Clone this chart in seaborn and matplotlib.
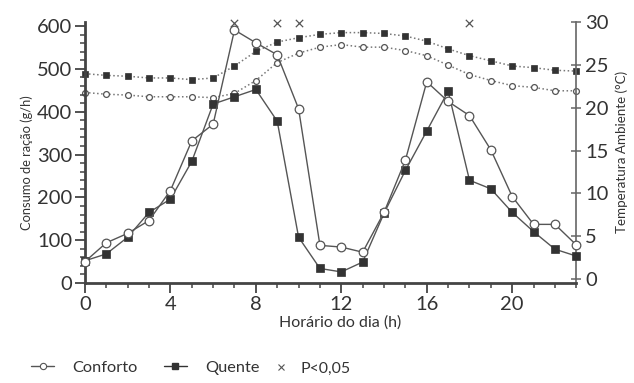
import numpy as np
import pandas as pd
import matplotlib
matplotlib.use("Agg")
import matplotlib.pyplot as plt
from matplotlib.lines import Line2D
from matplotlib.ticker import MultipleLocator
import seaborn as sns

sns.set_theme(style="white")
plt.rcParams['font.family'] = ['Lato', 'DejaVu Sans']

hours = list(range(24))
consumo_conforto = [50, 94, 116, 146, 216, 332, 371, 591, 561, 533, 407, 88, 84, 72,
                    165, 287, 470, 424, 391, 311, 202, 137, 137, 89]
consumo_quente = [52, 68, 107, 165, 196, 284, 418, 435, 452, 378, 107, 34, 26, 49,
                  163, 263, 355, 448, 240, 220, 165, 120, 79, 63]
temp_conforto = [21.8, 21.6, 21.5, 21.3, 21.3, 21.3, 21.2, 21.7, 23.2, 25.3, 26.4, 27.1,
                 27.4, 27.1, 27.1, 26.7, 26.1, 25.0, 23.9, 23.2, 22.6, 22.4, 22.0, 22.0]
temp_quente = [24.0, 23.8, 23.7, 23.5, 23.5, 23.3, 23.5, 24.9, 26.6, 27.7, 28.2, 28.6,
               28.8, 28.8, 28.7, 28.4, 27.8, 26.9, 26.1, 25.5, 24.9, 24.7, 24.4, 24.3]
signif_hours = [7, 9, 10, 18]
signif_level = [608, 608, 608, 608]

x_ticks = [0, 4, 8, 12, 16, 20]
y_ticks = [0, 100, 200, 300, 400, 500, 600]
t_ticks = [0, 5, 10, 15, 20, 25, 30]

dark = '#444444'
txt = '#333333'

fig = plt.figure(figsize=(6.34, 3.83), dpi=100)
ax = fig.add_axes([0.134, 0.261, 0.775, 0.682])
ax2 = ax.twinx()

# temperature (dotted)
sns.lineplot(x=hours, y=temp_conforto, ax=ax2, color='#777777', linestyle=':', lw=1.1,
             marker='o', markersize=4.2, markerfacecolor='white', markeredgecolor='#555555',
             markeredgewidth=0.9, clip_on=False, zorder=2)
sns.lineplot(x=hours, y=temp_quente, ax=ax2, color='#777777', linestyle=':', lw=1.1,
             marker='s', markersize=4.2, markerfacecolor='#333333', markeredgecolor='#333333',
             markeredgewidth=0.5, clip_on=False, zorder=2)

# consumption (solid)
sns.lineplot(x=hours, y=consumo_quente, ax=ax, color='#555555', lw=1.0,
             marker='s', markersize=5.6, markerfacecolor='#333333', markeredgecolor='#333333',
             markeredgewidth=0.5, clip_on=False, zorder=3)
sns.lineplot(x=hours, y=consumo_conforto, ax=ax, color='#555555', lw=1.0,
             marker='o', markersize=6.2, markerfacecolor='white', markeredgecolor='#555555',
             markeredgewidth=0.9, clip_on=False, zorder=4)
sns.scatterplot(x=signif_hours, y=signif_level, ax=ax, marker='x', s=28, color='#555555',
                linewidth=0.9, clip_on=False, zorder=5)

ax.set_zorder(ax2.get_zorder() + 1)
ax.patch.set_visible(False)

ax.set_xlim(0, 23)
ax.set_ylim(0, 610)
ax2.set_ylim(-0.47, 30.06)

for a in (ax, ax2):
    for s in a.spines.values():
        s.set_visible(False)
ax.spines['left'].set_visible(True)
ax.spines['bottom'].set_visible(True)
ax.spines['left'].set_color(dark)
ax.spines['bottom'].set_color(dark)
ax.spines['left'].set_linewidth(2.0)
ax.spines['bottom'].set_linewidth(2.0)
ax2.spines['right'].set_visible(True)
ax2.spines['right'].set_color('#666666')
ax2.spines['right'].set_linewidth(1.2)
ax2.spines['right'].set_bounds(-0.47, 30)

ax.set_xticks(x_ticks)
ax.set_xticklabels([str(v) for v in x_ticks])
ax.xaxis.set_minor_locator(MultipleLocator(1))
ax.set_yticks(y_ticks)
ax.set_yticklabels([str(v) for v in y_ticks])
ax.yaxis.set_minor_locator(MultipleLocator(20))
ax2.set_yticks(t_ticks)
ax2.set_yticklabels([str(v) for v in t_ticks])

ax.tick_params(axis='both', which='major', direction='out', length=7, width=1.3,
               color=dark, labelsize=14.5, labelcolor=txt, pad=2, left=True, bottom=True)
ax.tick_params(axis='both', which='minor', direction='out', length=3.5, width=1.1,
               color=dark, left=True, bottom=True)
ax2.tick_params(axis='y', which='major', direction='inout', length=7, width=1.1,
                color='#666666', labelsize=14.5, labelcolor=txt, pad=3, right=True)

ax.set_xlabel('Horário do dia (h)', fontsize=11.5, color=txt)
ax.xaxis.set_label_coords(0.519, -0.125)
ax.set_ylabel('Consumo de ração (g/h)', fontsize=9.3, color=txt)
ax.yaxis.set_label_coords(-0.106, 0.46)
ax2.set_ylabel('Temperatura Ambiente (°C)', fontsize=9.6, color=txt, labelpad=5)

handles1 = [
    Line2D([], [], color='#555555', lw=1.0, marker='o', markersize=4.5,
           markerfacecolor='white', markeredgecolor='#555555', markeredgewidth=0.8),
    Line2D([], [], color='#333333', lw=1.0, marker='s', markersize=4.5,
           markerfacecolor='#333333', markeredgecolor='#333333'),
]
labels1 = ['Conforto', 'Quente']
leg1 = fig.legend(handles1, labels1, loc='lower left', bbox_to_anchor=(0.026, -0.018),
                  ncol=2, frameon=False, fontsize=11.8, handlelength=1.4,
                  handletextpad=1.1, columnspacing=1.6, labelcolor=txt)
handles2 = [Line2D([], [], color='#555555', lw=0, marker='x', markersize=5,
                   markeredgewidth=0.8)]
leg2 = fig.legend(handles2, ['P<0,05'], loc='lower left', bbox_to_anchor=(0.413, -0.018),
                  frameon=False, fontsize=11.4, handlelength=0.6, handletextpad=0.95,
                  labelcolor=txt)

fig.savefig('out.png', dpi=100)
